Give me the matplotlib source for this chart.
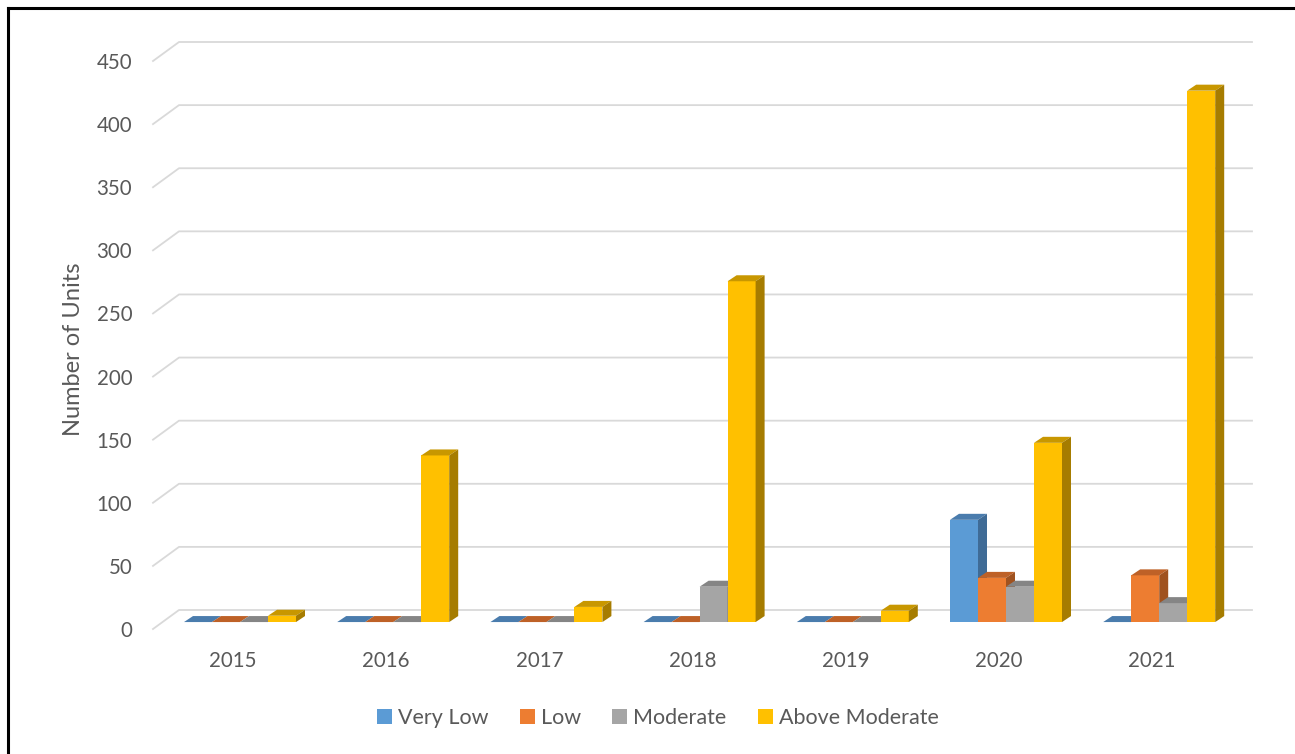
import matplotlib
matplotlib.use("Agg")
import matplotlib.pyplot as plt
from matplotlib.patches import Polygon, Patch
from matplotlib.lines import Line2D
import numpy as np

# data
years = ["2015", "2016", "2017", "2018", "2019", "2020", "2021"]
series = ["Very Low", "Low", "Moderate", "Above Moderate"]
very_low = [0, 0, 0, 0, 0, 81, 0]
low = [0, 0, 0, 0, 0, 35, 37]
moderate = [0, 0, 0, 28, 0, 28, 15]
above_moderate = [5, 132, 12, 270, 9, 142, 421]
yticks = [0, 50, 100, 150, 200, 250, 300, 350, 400, 450]

# front / top / side colours for the fake 3d look
front = ["#5B9BD5", "#ED7D31", "#A5A5A5", "#FFC000"]
top = ["#4A7CAD", "#BE6127", "#858585", "#C89700"]
side = ["#3F6B96", "#A0521F", "#747474", "#A67C00"]

text_col = "#595959"
grid_col = "#D9D9D9"
plt.rcParams["font.family"] = ["Lato", "DejaVu Sans"]
fs = 14.8

W, H = 1295, 754
fig = plt.figure(figsize=(W / 100, H / 100), dpi=100)

# pixel layout of the plot area
x_left, x_right = 153, 1252
y_zero, y_top = 629, 20
ax = fig.add_axes([x_left / W, 1 - y_zero / H, (x_right - x_left) / W, (y_zero - y_top) / H])

px_per_cat = 153.2
px_per_unit = 1.2622
xmin = (x_left - 233) / px_per_cat
xmax = (x_right - 233) / px_per_cat
ymax = (y_zero - y_top) / px_per_unit
ax.set_xlim(xmin, xmax)
ax.set_ylim(0, ymax)

# depth offsets (wall and bars)
wall_dx, wall_dy = 26 / px_per_cat, 19 / px_per_unit
bar_dx, bar_dy = 9 / px_per_cat, 6 / px_per_unit
base = 5.5
bw = 28 / px_per_cat
shift = 7 / px_per_cat

# gridlines on the back wall with the slanted bit at the side
for v in yticks:
    ax.plot([xmin, xmin + wall_dx, xmax], [v, v + wall_dy, v + wall_dy],
            color=grid_col, lw=1.3, zorder=1, clip_on=False)

x = np.arange(len(years))
data = [very_low, low, moderate, above_moderate]
for k, vals in enumerate(data):
    xs = x + shift + (k - 1.5) * bw
    z = 3 + k
    ax.bar(xs, vals, width=bw, bottom=base, color=front[k], zorder=z, linewidth=0)
    for xc, v in zip(xs, vals):
        l, r = xc - bw / 2, xc + bw / 2
        t = base + v
        ax.add_patch(Polygon([(l, t), (r, t), (r + bar_dx, t + bar_dy), (l + bar_dx, t + bar_dy)],
                             closed=True, facecolor=top[k], edgecolor="none", zorder=z))
        if v > 0:
            ax.add_patch(Polygon([(r, base), (r + bar_dx, base + bar_dy), (r + bar_dx, t + bar_dy), (r, t)],
                                 closed=True, facecolor=side[k], edgecolor="none", zorder=z))

for s in ax.spines.values():
    s.set_visible(False)
ax.set_yticks(yticks)
ax.set_yticklabels([str(v) for v in yticks])
ax.set_xticks(x)
ax.set_xticklabels(years)
ax.tick_params(axis="y", length=0, pad=15, labelsize=fs, labelcolor=text_col)
ax.tick_params(axis="x", length=0, pad=16, labelsize=fs, labelcolor=text_col)

ax.set_ylabel("Number of Units", fontsize=17, color=text_col)
ax.yaxis.label.set_va("center")
ax.yaxis.set_label_coords((73 - x_left) / (x_right - x_left), (y_zero - 349) / (y_zero - y_top))

handles = [Patch(facecolor=c, edgecolor="none") for c in front]
fig.legend(handles, series, loc="center", bbox_to_anchor=(658 / W, 1 - 718 / H), ncol=4,
           frameon=False, fontsize=15.5, labelcolor=text_col, handlelength=0.68, handleheight=0.68,
           handletextpad=0.3, columnspacing=1.45)

# black frame on the left and top edge
fig.add_artist(Line2D([7.5 / W, 7.5 / W], [0, 1 - 7.5 / H], color="black", lw=2.2, transform=fig.transFigure))
fig.add_artist(Line2D([7.5 / W, 1], [1 - 7.5 / H, 1 - 7.5 / H], color="black", lw=2.2, transform=fig.transFigure))

fig.savefig("out.png", dpi=100)
